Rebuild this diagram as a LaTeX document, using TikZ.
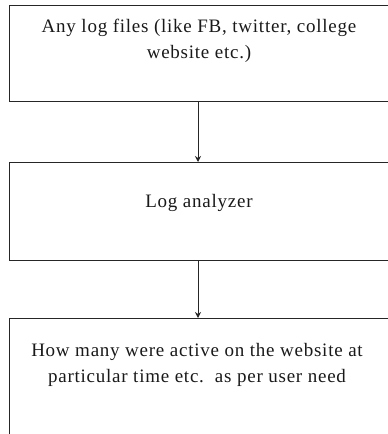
\documentclass[tikz,border=0pt]{standalone}
\usepackage{fontspec}
\setmainfont{Liberation Serif}[LetterSpace=4]
\usetikzlibrary{arrows.meta}
\begin{document}
\begin{tikzpicture}[x=1pt,y=-1pt,
  stagebox/.style={draw=black!85,line width=1.1pt,rectangle,inner sep=0pt,
    minimum width=382pt,anchor=north west},
  stagetext/.style={inner sep=0pt,align=center,anchor=base,
    font=\fontsize{19}{26}\selectfont,text=black!90},
  flow/.style={draw=black!85,line width=1pt,-{Stealth[length=6pt,width=6pt]}}]
\useasboundingbox (0,0) rectangle (388,434);
\clip (0,0) rectangle (388,434);
% the three stages, their right edges running past the page
\node[stagebox,minimum height=96pt] (src) at (9,5) {};
\node[stagebox,minimum height=98pt] (ana) at (9,162) {};
\node[stagebox,minimum height=140pt] (out) at (9,318) {};
% captions (a multi-line caption sits on the baseline of its last line)
\node[stagetext] (srctxt) at (199,58.5)
  {Any log files (like FB, twitter, college\\website etc.)};
\node[stagetext] (anatxt) at (199,207) {Log analyzer};
\node[stagetext] (outtxt) at (197,382.5)
  {How many were active on the website at\\particular time etc.\ \ as per user need};
% connectors
\coordinate (a1) at (198,101);
\coordinate (a2) at (198,162);
\coordinate (b1) at (198,260);
\coordinate (b2) at (198,318);
\draw[flow] (a1) -- (a2);
\draw[flow] (b1) -- (b2);
\end{tikzpicture}
\end{document}
